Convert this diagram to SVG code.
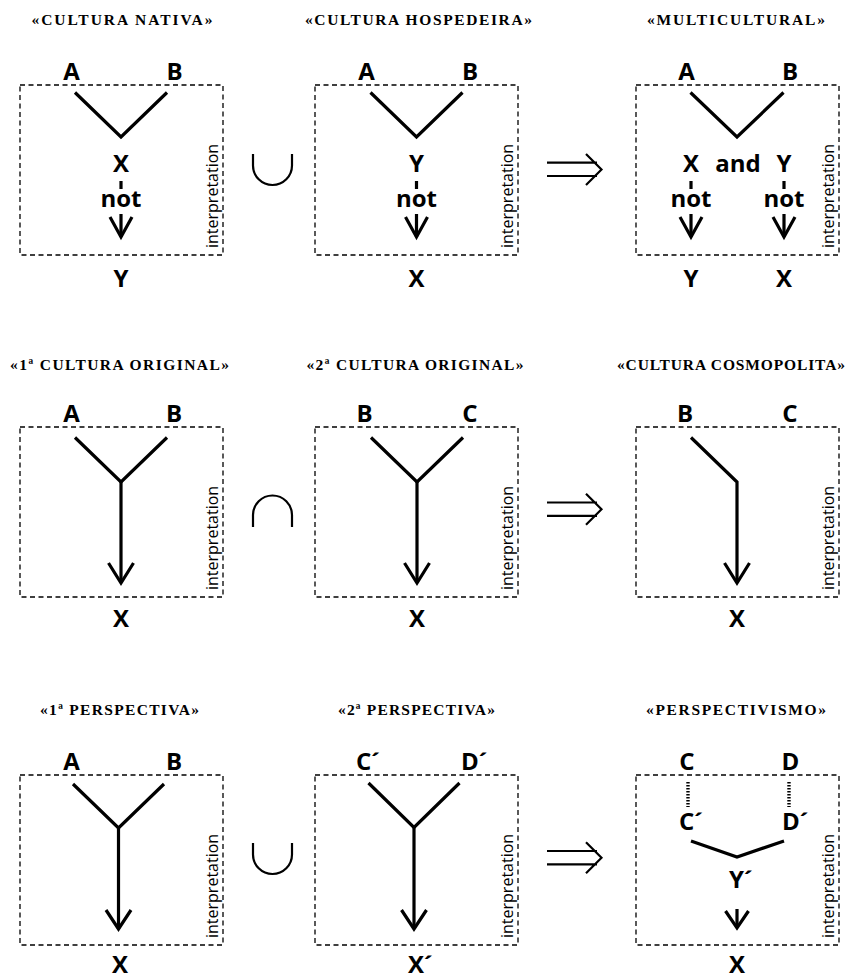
<svg xmlns="http://www.w3.org/2000/svg" width="857" height="977" viewBox="0 0 857 977">
<style>
.box{fill:none;stroke:#000;stroke-width:1.3;stroke-dasharray:5 3.5}
.ln{fill:none;stroke:#000;stroke-width:3.2;stroke-linejoin:miter;stroke-linecap:butt}
.dot{fill:none;stroke:#000;stroke-width:3.4;stroke-dasharray:1.6 1.4}
.op{fill:none;stroke:#000;stroke-width:2.2}
.t{font-family:"Liberation Serif",serif;font-weight:bold;font-size:15.5px;text-anchor:middle;fill:#000}
.L{font-family:"Open Sans","DejaVu Sans",sans-serif;font-weight:bold;font-size:24px;text-anchor:middle;fill:#000}
.Ls{font-family:"Open Sans","DejaVu Sans",sans-serif;font-weight:bold;font-size:24px;fill:#000}
.i{font-family:"Open Sans","DejaVu Sans",sans-serif;font-size:16px;fill:#000}
</style>
<rect width="857" height="977" fill="#fff"/>

<!-- Row 1 -->
<g id="p-cultura-nativa">
<text class="t" x="122" y="25" textLength="181" lengthAdjust="spacing">«CULTURA NATIVA»</text>
<rect class="box" x="20" y="85" width="203" height="170"/>
<text class="L" x="71.5" y="80">A</text>
<text class="L" x="174.5" y="80">B</text>
<text class="L" x="121" y="172">X</text>
<text class="L" x="121" y="207">not</text>
<text class="L" x="121" y="287">Y</text>
<text class="i" transform="translate(218,248) rotate(-90)">interpretation</text>
</g>
<g id="p-cultura-hospedeira">
<text class="t" x="418.5" y="25" textLength="227" lengthAdjust="spacing">«CULTURA HOSPEDEIRA»</text>
<rect class="box" x="315" y="85" width="203" height="170"/>
<text class="L" x="366.5" y="80">A</text>
<text class="L" x="470" y="80">B</text>
<text class="L" x="416.5" y="172">Y</text>
<text class="L" x="416.5" y="207">not</text>
<text class="L" x="416.5" y="287">X</text>
<text class="i" transform="translate(513,248) rotate(-90)">interpretation</text>
</g>
<g id="p-multicultural">
<text class="t" x="736" y="25" textLength="178" lengthAdjust="spacing">«MULTICULTURAL»</text>
<rect class="box" x="636" y="85" width="203" height="170"/>
<text class="L" x="686.5" y="80">A</text>
<text class="L" x="790" y="80">B</text>
<text class="L" x="691" y="172">X</text>
<text class="L" x="738" y="172">and</text>
<text class="L" x="784" y="172">Y</text>
<text class="L" x="691" y="207">not</text>
<text class="L" x="784" y="207">not</text>
<text class="L" x="691" y="287">Y</text>
<text class="L" x="784" y="287">X</text>
<text class="i" transform="translate(834,248) rotate(-90)">interpretation</text>
</g>

<!-- Row 2 -->
<g id="p-1a-cultura-original">
<text class="t" x="119.5" y="370" textLength="219" lengthAdjust="spacing">«1ª CULTURA ORIGINAL»</text>
<rect class="box" x="20" y="427" width="203" height="170"/>
<text class="L" x="71.5" y="422">A</text>
<text class="L" x="174" y="422">B</text>
<text class="L" x="121" y="627">X</text>
<text class="i" transform="translate(218,590) rotate(-90)">interpretation</text>
</g>
<g id="p-2a-cultura-original">
<text class="t" x="415" y="370" textLength="217" lengthAdjust="spacing">«2ª CULTURA ORIGINAL»</text>
<rect class="box" x="315" y="427" width="203" height="170"/>
<text class="L" x="364.5" y="422">B</text>
<text class="L" x="470" y="422">C</text>
<text class="L" x="417" y="627">X</text>
<text class="i" transform="translate(513,590) rotate(-90)">interpretation</text>
</g>
<g id="p-cultura-cosmopolita">
<text class="t" x="731" y="370" textLength="228" lengthAdjust="spacing">«CULTURA COSMOPOLITA»</text>
<rect class="box" x="636" y="427" width="203" height="170"/>
<text class="L" x="685" y="422">B</text>
<text class="L" x="790" y="422">C</text>
<text class="L" x="737" y="627">X</text>
<text class="i" transform="translate(834,590) rotate(-90)">interpretation</text>
</g>

<!-- Row 3 -->
<g id="p-1a-perspectiva">
<text class="t" x="119.5" y="715" textLength="159" lengthAdjust="spacing">«1ª PERSPECTIVA»</text>
<rect class="box" x="20" y="775" width="203" height="170"/>
<text class="L" x="71.5" y="770">A</text>
<text class="L" x="174" y="770">B</text>
<text class="L" x="120" y="973">X</text>
<text class="i" transform="translate(218,938) rotate(-90)">interpretation</text>
</g>
<g id="p-2a-perspectiva">
<text class="t" x="416.5" y="715" textLength="157" lengthAdjust="spacing">«2ª PERSPECTIVA»</text>
<rect class="box" x="315" y="775" width="203" height="170"/>
<text class="Ls" x="356" y="770">C´</text>
<text class="Ls" x="461" y="770">D´</text>
<text class="Ls" x="408" y="973">X´</text>
<text class="i" transform="translate(513,938) rotate(-90)">interpretation</text>
</g>
<g id="p-perspectivismo">
<text class="t" x="736" y="715" textLength="180" lengthAdjust="spacing">«PERSPECTIVISMO»</text>
<rect class="box" x="636" y="775" width="203" height="170"/>
<text class="L" x="687" y="770">C</text>
<text class="L" x="790.5" y="770">D</text>
<text class="Ls" x="679" y="830">C´</text>
<text class="Ls" x="782" y="830">D´</text>
<text class="Ls" x="729" y="888">Y´</text>
<text class="L" x="737" y="973">X</text>
<text class="i" transform="translate(834,938) rotate(-90)">interpretation</text>
</g>

<!-- Operators -->
<g id="op-union-1"><path class="op" d="M253,154 V165.5 A19.5,19.5 0 0 0 292,165.5 V154"/></g>
<g id="op-implies-1"><path class="op" d="M547,162.7 H597 M547,176 H597 M586,154 L601.5,169.5 L586,185"/></g>
<g id="op-intersection-2"><path class="op" d="M253,527 V515 A19.5,19.5 0 0 1 292,515 V527"/></g>
<g id="op-implies-2"><path class="op" d="M547,502.5 H597 M547,515.8 H597 M586,493.7 L601.5,509.2 L586,524.7"/></g>
<g id="op-union-3"><path class="op" d="M253,843 V854.5 A19.5,19.5 0 0 0 292,854.5 V843"/></g>
<g id="op-implies-3"><path class="op" d="M547,851 H597 M547,864.3 H597 M586,842.2 L601.5,857.7 L586,873.2"/></g>

<!-- Connectors -->
<g id="connectors">
<path class="ln" d="M75,92.5 L121,137 L167,92.5"/>
<path class="ln" d="M121,181 V189 M121,214 V237"/>
<path class="ln" d="M110,217 L121,237 L132,217"/>
<path class="ln" d="M370.5,92.5 L416.5,137 L462.5,92.5"/>
<path class="ln" d="M416.5,181 V189 M416.5,214 V237"/>
<path class="ln" d="M405.5,217 L416.5,237 L427.5,217"/>
<path class="ln" d="M690.5,92.5 L737,137 L783.5,92.5"/>
<path class="ln" d="M691,181 V189 M691,214 V237"/>
<path class="ln" d="M680,217 L691,237 L702,217"/>
<path class="ln" d="M784,181 V189 M784,214 V237"/>
<path class="ln" d="M773,217 L784,237 L795,217"/>
<path class="ln" d="M75,437.5 L121,482 L167,437.5"/>
<path class="ln" d="M121,481 V583"/>
<path class="ln" d="M108.5,563 L121,583 L133.5,563"/>
<path class="ln" d="M371,437.5 L417,482 L463,437.5"/>
<path class="ln" d="M417,481 V583"/>
<path class="ln" d="M404.5,563 L417,583 L429.5,563"/>
<path class="ln" d="M691,437.5 L737,482 V583"/>
<path class="ln" d="M724.5,563 L737,583 L749.5,563"/>
<path class="ln" d="M73,784 L118.5,828 L164,784"/>
<path class="ln" d="M118.5,827 V929"/>
<path class="ln" d="M106,910 L118.5,929 L131,910"/>
<path class="ln" d="M368.5,783 L414,827.5 L459.5,783"/>
<path class="ln" d="M414,826.5 V929"/>
<path class="ln" d="M401.5,910 L414,929 L426.5,910"/>
<path class="dot" d="M688,782 V807 M789,782 V807"/>
<path class="ln" d="M691,841 L737,857 L784,841"/>
<path class="ln" d="M737,909 V928"/>
<path class="ln" d="M725.5,911 L737,928 L748.5,911"/>
</g>
</svg>
